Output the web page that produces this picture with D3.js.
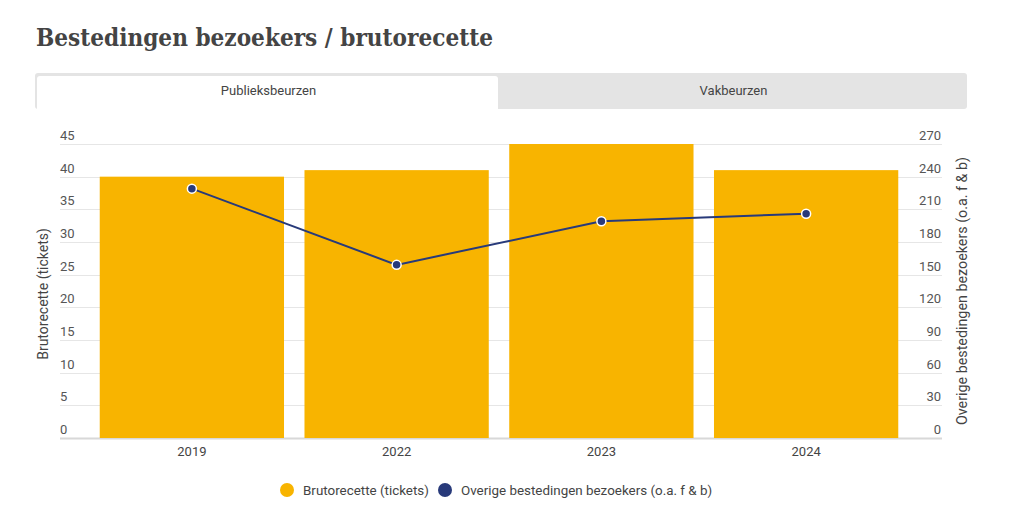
<!DOCTYPE html>
<html>
<head>
<meta charset="utf-8">
<script src="https://cdn.jsdelivr.net/npm/d3@7"></script>
<style>
  body { margin: 0; background: #fff; }
  svg { display: block; font-family: Roboto, sans-serif; }
</style>
</head>
<body>
<div id="chart"></div>
<script>
'use strict';

// data
var years = ['2019', '2022', '2023', '2024'];
var brutorecette = [40, 41, 45, 41];
var overige = [229, 159, 199, 206];
var leftTicks = [0, 5, 10, 15, 20, 25, 30, 35, 40, 45];
var rightTicks = [0, 30, 60, 90, 120, 150, 180, 210, 240, 270];
var tabs = ['Publieksbeurzen', 'Vakbeurzen'];
var seriesNames = ['Brutorecette (tickets)', 'Overige bestedingen bezoekers (o.a. f & b)'];

var width = 1014, height = 509;
var barColor = '#f8b400', lineColor = '#283a7a';
var plotLeft = 60, plotRight = 942, plotTop = 144, plotBottom = 438;

var svg = d3.select('#chart').append('svg')
  .attr('width', width)
  .attr('height', height);

// title
svg.append('text')
  .attr('x', 36)
  .attr('y', 46)
  .attr('font-family', '"DejaVu Serif", serif')
  .attr('font-weight', 'bold')
  .attr('font-size', 24)
  .attr('fill', '#444')
  .attr('textLength', 457)
  .attr('lengthAdjust', 'spacingAndGlyphs')
  .text('Bestedingen bezoekers / brutorecette');

// tab bar
svg.append('rect')
  .attr('x', 35).attr('y', 73)
  .attr('width', 932).attr('height', 36)
  .attr('rx', 3)
  .attr('fill', '#e4e4e4');
svg.append('path')
  .attr('d', 'M37,109 L37,79 Q37,76 40,76 L495,76 Q498,76 498,79 L498,109 Z')
  .attr('fill', '#fff');

var tabX = d3.scaleBand().domain(tabs).range([37, 963]);
svg.selectAll('text.tab')
  .data(tabs)
  .enter().append('text')
  .attr('class', 'tab')
  .attr('x', function (d) { return tabX(d) + tabX.bandwidth() / 2 + (d === tabs[0] ? 0 : 2); })
  .attr('y', 95)
  .attr('text-anchor', 'middle')
  .attr('font-size', 13)
  .attr('fill', '#444')
  .text(function (d) { return d; });

// scales
var x = d3.scaleBand()
  .domain(years)
  .range([89.5, 908.5])
  .paddingInner(0.1)
  .paddingOuter(0.05);
var yLeft = d3.scaleLinear().domain([0, 45]).range([plotBottom, plotTop]);
var yRight = d3.scaleLinear().domain([0, 270]).range([plotBottom, plotTop]);

// grid
svg.append('g')
  .selectAll('line')
  .data(leftTicks)
  .enter().append('line')
  .attr('x1', plotLeft).attr('x2', plotRight)
  .attr('y1', function (d) { return Math.round(yLeft(d)) + 0.5; })
  .attr('y2', function (d) { return Math.round(yLeft(d)) + 0.5; })
  .attr('stroke', function (d) { return d === 0 ? '#d8d8d8' : '#e6e6e6'; })
  .attr('stroke-width', function (d) { return d === 0 ? 2 : 1; });

// left axis labels (above grid lines)
var leftAxis = svg.append('g')
  .attr('transform', 'translate(' + plotLeft + ',0)')
  .call(d3.axisRight(yLeft).tickValues(leftTicks).tickSize(0).tickPadding(0));
leftAxis.select('.domain').remove();
leftAxis.selectAll('text')
  .attr('dy', '-0.35em')
  .attr('font-size', 13)
  .attr('font-family', 'Roboto, sans-serif')
  .attr('fill', '#555');

var rightAxis = svg.append('g')
  .attr('transform', 'translate(' + plotRight + ',0)')
  .call(d3.axisLeft(yRight).tickValues(rightTicks).tickSize(0).tickPadding(1));
rightAxis.select('.domain').remove();
rightAxis.selectAll('text')
  .attr('dy', '-0.35em')
  .attr('font-size', 13)
  .attr('font-family', 'Roboto, sans-serif')
  .attr('fill', '#555');

// axis titles
svg.append('text')
  .attr('transform', 'translate(48,294) rotate(-90)')
  .attr('text-anchor', 'middle')
  .attr('font-size', 14)
  .attr('fill', '#444')
  .text('Brutorecette (tickets)');
svg.append('text')
  .attr('transform', 'translate(967,291) rotate(-90)')
  .attr('text-anchor', 'middle')
  .attr('font-size', 14.3)
  .attr('fill', '#444')
  .text('Overige bestedingen bezoekers (o.a. f & b)');

// bars
svg.append('g')
  .selectAll('rect')
  .data(years)
  .enter().append('rect')
  .attr('x', function (d) { return x(d); })
  .attr('y', function (d, i) { return yLeft(brutorecette[i]); })
  .attr('width', x.bandwidth())
  .attr('height', function (d, i) { return plotBottom - yLeft(brutorecette[i]); })
  .attr('fill', barColor);

// x axis labels
var xAxis = svg.append('g')
  .attr('transform', 'translate(0,' + plotBottom + ')')
  .call(d3.axisBottom(x).tickSize(0).tickPadding(9));
xAxis.select('.domain').remove();
xAxis.selectAll('text')
  .attr('font-size', 13)
  .attr('font-family', 'Roboto, sans-serif')
  .attr('fill', '#444');

// line
var line = d3.line()
  .x(function (d, i) { return x(years[i]) + x.bandwidth() / 2; })
  .y(function (d) { return yRight(d); });
svg.append('path')
  .datum(overige)
  .attr('d', line)
  .attr('fill', 'none')
  .attr('stroke', lineColor)
  .attr('stroke-width', 2);
svg.append('g')
  .selectAll('circle')
  .data(overige)
  .enter().append('circle')
  .attr('cx', function (d, i) { return x(years[i]) + x.bandwidth() / 2; })
  .attr('cy', function (d) { return yRight(d); })
  .attr('r', 4.5)
  .attr('fill', lineColor)
  .attr('stroke', '#fff')
  .attr('stroke-width', 1.5);

// legend
var legend = svg.append('g').attr('font-size', 13.4);
var legendItems = [
  { name: seriesNames[0], color: barColor, cx: 287, tx: 303 },
  { name: seriesNames[1], color: lineColor, cx: 445, tx: 461 }
];
legendItems.forEach(function (it) {
  legend.append('circle')
    .attr('cx', it.cx).attr('cy', 490).attr('r', 7)
    .attr('fill', it.color);
  legend.append('text')
    .attr('x', it.tx).attr('y', 495)
    .attr('fill', '#444')
    .text(it.name);
});
</script>
</body>
</html>
